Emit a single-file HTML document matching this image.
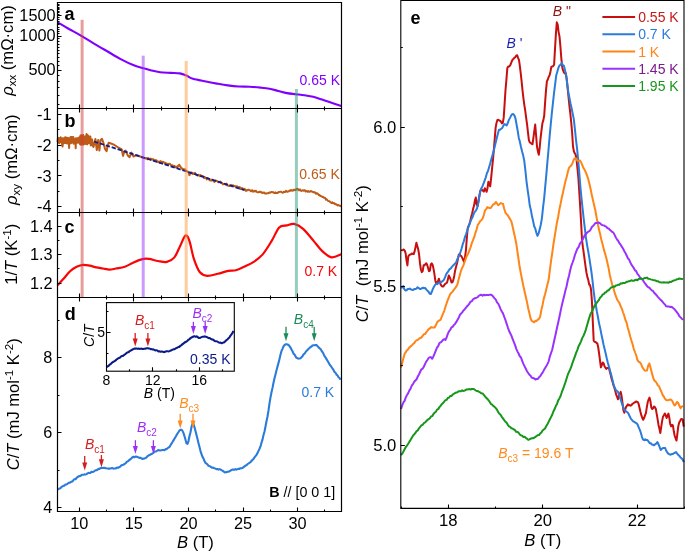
<!DOCTYPE html>
<html><head><meta charset="utf-8"><title>figure</title>
<style>html,body{margin:0;padding:0;background:#fff;}svg{display:block;will-change:transform;}text{font-family:"Liberation Sans",sans-serif;}</style>
</head><body>
<svg width="685" height="552" viewBox="0 0 685 552">
<rect width="685" height="552" fill="#fff"/>
<path d="M57.5,22.3 C59.27,23.33 64.07,26.2 68.1,28.5 C72.13,30.8 77.32,33.55 81.7,36.1 C86.08,38.65 90.08,41.23 94.4,43.8 C98.72,46.37 103.22,48.95 107.6,51.5 C111.98,54.05 116.33,56.8 120.7,59.1 C125.07,61.4 130.15,63.83 133.8,65.3 C137.45,66.77 139.68,67.03 142.6,67.9 C145.52,68.77 148.38,69.77 151.3,70.5 C154.22,71.23 156.82,71.9 160.1,72.3 C163.38,72.7 167.72,72.72 171,72.9 C174.28,73.08 177.23,72.97 179.8,73.4 C182.37,73.83 184.2,74.6 186.4,75.5 C188.6,76.4 189.73,77.8 193,78.8 C196.27,79.8 202.02,80.7 206,81.5 C209.98,82.3 213.27,82.95 216.9,83.6 C220.53,84.25 224.15,84.92 227.8,85.4 C231.45,85.88 235.15,86.28 238.8,86.5 C242.45,86.72 246.05,86.52 249.7,86.7 C253.35,86.88 257.42,87.27 260.7,87.6 C263.98,87.93 266.48,88.15 269.4,88.7 C272.32,89.25 275.27,90.17 278.2,90.9 C281.13,91.63 284.08,92.55 287,93.1 C289.92,93.65 292.78,93.83 295.7,94.2 C298.62,94.57 301.58,94.87 304.5,95.3 C307.42,95.73 310.28,96.08 313.2,96.8 C316.12,97.52 319.07,98.65 322,99.6 C324.93,100.55 327.58,101.45 330.8,102.5 C334.02,103.55 339.55,105.33 341.3,105.9" fill="none" stroke="#8000FF" stroke-width="2.1" stroke-linejoin="round"/>
<polyline points="57.5,142.18 57.95,138.04 58.4,142.5 58.85,137.89 59.3,143.14 59.75,139.23 60.2,141.59 60.65,137.28 61.1,142.2 61.55,138.79 62,144.05 62.45,138.19 62.5,146.5 62.9,143.64 63.35,138.17 63.8,143.13 64.25,138.98 64.7,143.12 65.15,137.16 65.6,142.83 66.05,137.48 66.5,143.19 66.95,139.17 67.4,143.4 67.85,137.84 68.3,142.24 68.75,139.24 69.1,148 69.2,143.66 69.65,138.12 70.1,143.28 70.55,137.09 71,143.26 71.45,136.97 71.9,142.45 72.35,137.27 72.8,142.56 73.25,136.92 73.7,143.65 74.15,139.03 74.6,141.77 75.05,138.72 75.5,143.85 75.7,148.2 75.95,138.16 76.4,142.99 76.85,138.49 77.3,142.68 77.75,138.27 78.2,142.28 78.65,137.76 79.1,142.86 79.55,136.95 80,144.19 80.45,135.49 80.9,144.68 81.35,135.15 81.8,143.91 82.25,137.93 82.7,144.45 83.15,135 83.6,144.49 84.05,136.27 84.5,143.7 84.95,137.4 85.4,143.99 85.85,136.01 86.3,142.08 86.5,133.9 86.75,137.99 87.2,144.33 87.65,135.01 88.1,141.91 88.55,135.93 89,143.29 89.45,138.46 89.9,143.14 90.35,136.55 90.8,145.43 91.25,139.35 91.7,144.78 92.15,139.6 92.6,145.4 93.5,147 95.4,139 96.8,150 98.2,140 99.4,150.6 100.6,140 102,138.8 103.5,143 105,149 106.6,151.3 107.6,146 108.6,142.7 111,143.5 113.8,144.7 116,146 119.1,148 121.7,149.3 123,155.9 124.3,152 125.6,150.6 127.6,155.2 129.6,157.2 131.5,152.6 133.5,156.5 136.1,155.2 140.1,156.5 143.4,157.8 146,158.5 146.7,157.96 147.4,159.12 148.1,158.12 148.8,159.21 149.5,159.02 150.2,158.57 150.9,159.63 151.6,158.84 152.3,159.8 153,159.23 153.7,159.43 154.4,160.28 155.1,161.26 155.8,160.03 156.5,160.41 157.2,161.4 157.9,162.22 158.6,161.65 159.3,161.47 160,162.81 160.7,161.13 161.4,162.93 162.1,161.97 162.8,161.86 163.5,161.98 164.2,162.54 164.9,163.77 165.6,162.73 166.3,163.77 167,164.12 167.7,163.82 168.4,164.41 169.1,163.67 169.8,163.9 170.5,164.43 171.2,165.61 171.9,165.34 172.6,165.35 173.3,166.13 174,166.1 174.7,166.03 175.4,167.25 176.1,167.29 176.8,166.62 177.5,167.52 178.2,165.5 179.3,164.8 180.4,166.8 181.7,168.17 182.4,169.04 183.1,169.98 183.8,169.03 184.5,169.97 185.2,169.33 185.9,170.85 186.6,171.3 187.3,171.17 188,172.02 188.6,172.2 189.4,175.2 190.2,173.6 190.8,172.43 191.5,172.44 192.2,173.46 192.9,173.92 193.6,173.22 194.3,173.85 195,172.9 195.7,174.43 196.4,174.57 197.1,175.51 197.8,175.46 198.5,174.69 199.2,175.2 199.9,176.07 200.6,175.09 201.3,176.27 202,175.99 202.7,176.19 203.4,176.38 204.1,178.11 204.8,177.13 205.5,177.68 206.2,178.24 206.9,179.41 207.6,178.03 208.3,178.97 209,179.38 209.7,180.25 210.4,180.33 211.1,180.63 211.8,179.66 212.5,180.14 213.2,180.23 213.9,181.49 214.6,181.84 215.3,180.43 216,180.69 216.7,181.01 217.4,181.22 218.1,181.93 218.8,182.35 219.5,181.91 220.2,181.61 220.9,182.65 221.6,182.76 222.3,183.37 223,184.35 223.7,184.04 224.4,183.9 225.1,184.32 225.8,184.65 226.5,183.61 227.2,185.52 227.9,185.49 228.6,185.86 229.3,185.89 230,185.26 230.7,185.46 231.4,185.06 232.1,186.3 232.8,185.34 233.5,185.54 234.2,186 234.9,186.1 235.6,186.64 236.3,186.25 237,186.33 237.7,186.81 238.4,186.9 239.1,187.62 239.8,187.15 240.5,189.06 241.2,188.75 241.9,188.02 242.6,188.44 243.3,188.84 244,189.08 244.7,188.81 245.4,190.47 246.1,190.97 246.8,190.12 247.5,190.37 248.2,189.66 248.9,189.78 249.6,190.35 250.3,190.42 251,191.3 251.7,190.45 252.4,190.34 253.1,191.73 253.8,191.23 254.5,190.78 255.2,191.42 255.9,190.79 256.6,191.59 257.3,192.34 258,192.3 258.7,192.19 259.4,191.7 260.1,191.97 260.8,191.81 261.5,192.78 262.2,192.56 262.9,193.03 263.6,192.52 264.3,192.49 265,193.44 265.7,193.65 266.4,193.43 267.1,193.33 267.8,193.32 268.5,193.18 269.2,192.43 269.9,192.8 270.6,192.54 271.3,192.05 272,192.02 272.7,192.34 273.4,192.28 274.1,192.85 274.8,193.18 275.5,192.43 276.2,193.08 276.9,193.11 277.6,193.02 278.3,192.15 279,191.91 279.7,191.88 280.4,191.8 281.1,191.77 281.8,192.32 282.5,192.67 283.2,192.46 283.9,191.82 284.6,191.92 285.3,191.99 286,190.85 286.7,191.52 287.4,191.74 288.1,191.42 288.8,191.24 289.5,190.72 290.2,190.16 290.9,190.88 291.6,190.11 292.3,190.62 293,190.72 293.7,189.77 294.4,189.64 295.1,190.27 295.8,189.81 296.5,188.9 297.2,188.86 297.9,189.03 298.6,190.22 299.3,190.22 300,189.43 300.7,190.52 301.4,190.87 302.1,190.55 302.8,190.26 303.5,190.67 304.2,190.22 304.9,190.16 305.6,191.58 306.3,191.2 307,191.11 307.7,191.75 308.4,191.13 309.1,191.82 309.8,191.83 310.5,191.04 311.2,191.22 311.9,191.51 312.6,191.67 313.3,192.39 314,192.16 314.7,192.62 315.4,192.45 316.1,193.77 316.8,193.23 317.5,193.61 318.2,194.22 318.9,195.13 319.6,194.92 320.3,196.08 321,195.97 321.7,196.48 322.4,196.93 323.1,196.69 323.8,197.75 324.5,197.85 325.2,198.06 325.9,199.63 326.6,199.2 327.3,200.08 328,200.89 328.7,201.11 329.4,201.24 330.1,201.97 330.8,202.48 331.5,203.03 332.2,202.32 332.9,203.2 333.6,203 334.3,203.27 335,204.2 335.7,204.07 336.4,204.38 337.1,204.9 337.8,205.39 338.5,205.03 339.2,205.57 339.9,205.71 340.6,206.02 341.3,206.57" fill="none" stroke="#BE5B16" stroke-width="2.0" stroke-linejoin="round"/>
<line x1="94" y1="141.5" x2="244.5" y2="190.2" stroke="#101C8C" stroke-width="1.8" stroke-dasharray="4.3 1.9"/>
<path d="M57.5,285.3 C58.5,284.22 61.4,281.15 63.5,278.8 C65.6,276.45 67.92,273.2 70.1,271.2 C72.28,269.2 74.42,267.87 76.6,266.8 C78.78,265.73 81,264.98 83.2,264.8 C85.4,264.62 87.62,265.27 89.8,265.7 C91.98,266.13 94.12,266.93 96.3,267.4 C98.48,267.87 100.7,268.13 102.9,268.5 C105.1,268.87 107.32,269.6 109.5,269.6 C111.68,269.6 113.45,268.97 116,268.5 C118.55,268.03 121.87,267.82 124.8,266.8 C127.73,265.78 130.68,263.68 133.6,262.4 C136.52,261.12 139.73,259.68 142.3,259.1 C144.87,258.52 146.38,258.58 149,258.9 C151.62,259.22 155.02,260.5 158,261 C160.98,261.5 164.17,262.5 166.9,261.9 C169.63,261.3 172.15,260.15 174.4,257.4 C176.65,254.65 178.55,249.05 180.4,245.4 C182.25,241.75 184,236.25 185.5,235.5 C187,234.75 188,237 189.4,240.9 C190.8,244.8 192.15,253.67 193.9,258.9 C195.65,264.13 197.67,269.47 199.9,272.3 C202.13,275.13 204.32,275.65 207.3,275.9 C210.28,276.15 214.3,274.65 217.8,273.8 C221.3,272.95 225.3,271.4 228.3,270.8 C231.3,270.2 233.05,270.93 235.8,270.2 C238.55,269.47 241.82,267.78 244.8,266.4 C247.78,265.02 250.72,263.9 253.7,261.9 C256.68,259.9 259.7,257.9 262.7,254.4 C265.7,250.9 268.95,245.4 271.7,240.9 C274.45,236.4 276.7,229.98 279.2,227.4 C281.7,224.82 284.22,225.98 286.7,225.4 C289.18,224.82 291.37,223.32 294.1,223.9 C296.83,224.48 299.85,226.07 303.1,228.9 C306.35,231.73 310.35,237.15 313.6,240.9 C316.85,244.65 319.6,248.65 322.6,251.4 C325.6,254.15 328.48,256.93 331.6,257.4 C334.72,257.87 339.68,254.73 341.3,254.2" fill="none" stroke="#FA0505" stroke-width="2.2" stroke-linejoin="round"/>
<polyline points="57.5,489.56 58.5,488.98 59.5,488.56 60.5,488.16 61.5,487 62.5,486.31 63.5,485.77 64.5,485.61 65.5,484.44 66.5,484.42 67.5,483.84 68.5,482.91 69.5,482.81 70.5,482.24 71.5,481.65 72.5,481.54 73.5,480.01 74.5,479.18 75.5,479.22 76.5,477.97 77.5,477.06 78.5,476.52 79.5,475.99 80.5,476.05 81.5,475.01 82.5,474.69 83.5,474.73 84.5,474.42 85.5,474.51 86.5,474.1 87.5,473.33 88.5,472.86 89.5,473.09 90.5,472.88 91.5,471.66 92.5,471.93 93.5,471.67 94.5,471.06 95.5,470.23 96.5,470.3 97.5,469.8 98.5,468.9 99.5,468.94 100.5,468.23 101.5,467.81 102.5,467.93 103.5,467.84 104.5,467.86 105.5,468.11 106.5,468.33 107.5,468.5 108.5,468.58 109.5,468.63 110.5,468.48 111.5,468.12 112.5,468.12 113.5,468.62 114.5,468.57 115.5,468.57 116.5,467.8 117.5,467.51 118.5,467.7 119.5,466.9 120.5,466.43 121.5,465.29 122.5,464.95 123.5,464.78 124.5,463.89 125.5,463.51 126.5,462.05 127.5,461.46 128.5,460.93 129.5,459.76 130.5,459.25 131.5,458.31 132.5,457.28 133.5,456.78 134.5,457.31 135.5,456.47 136.5,456.63 137.5,456.94 138.5,457.53 139.5,457.88 140.5,457.79 141.5,458.32 142.5,459.05 143.5,458.65 144.5,458.44 145.5,458.11 146.5,457.47 147.5,456.2 148.5,455.52 149.5,454.82 150.5,454.67 151.5,453.98 152.5,453.54 153.5,452.67 154.5,451.58 155.5,451.5 156.5,451.28 157.5,450.47 158.5,450.1 159.5,450.45 160.5,450.41 161.5,450.32 162.5,450.09 163.5,449.91 164.5,450.26 165.5,449.15 166.5,449.2 167.5,448.25 168.5,447.47 169.5,447.04 170.5,445.26 171.5,443.56 172.5,442.03 173.5,440.42 174.5,438.51 175.5,437.17 176.5,435.08 177.5,433.48 178.5,432.04 179.5,430.47 180.5,429.86 181.5,429.83 182.5,430.87 183.5,433.17 184.5,436.27 185.5,439.84 186.5,443.36 187.5,443.88 188.5,441.04 189.5,436.08 190.5,432.3 191.5,426.92 192.5,423.74 193.5,424.01 194.5,427.16 195.5,430.91 196.5,434.98 197.5,439.12 198.5,443.23 199.5,447.08 200.5,451.1 201.5,454.06 202.5,456.86 203.5,458.54 204.5,461.06 205.5,462.91 206.5,463.57 207.5,464.48 208.5,465.82 209.5,466.07 210.5,466.65 211.5,467.52 212.5,467.59 213.5,467.87 214.5,468.25 215.5,468.64 216.5,469.17 217.5,469.05 218.5,469.57 219.5,469.12 220.5,469.51 221.5,470.19 222.5,470.6 223.5,471.31 224.5,472.38 225.5,472.19 226.5,472.17 227.5,471.81 228.5,471.79 229.5,471.11 230.5,470.75 231.5,469.86 232.5,469.49 233.5,469.59 234.5,469.74 235.5,469.17 236.5,469.59 237.5,469.15 238.5,468.83 239.5,468.95 240.5,468.19 241.5,468.19 242.5,467.96 243.5,467.17 244.5,466.41 245.5,465.58 246.5,465.3 247.5,464.17 248.5,463.5 249.5,462.76 250.5,462.19 251.5,460.97 252.5,459.8 253.5,459.02 254.5,457.35 255.5,456.11 256.5,454.88 257.5,453.08 258.5,450.84 259.5,448.76 260.5,446.44 261.5,442.76 262.5,439.61 263.5,435.01 264.5,431.43 265.5,426.49 266.5,421.2 267.5,416.54 268.5,410.46 269.5,403.35 270.5,397.35 271.5,392.19 272.5,387.88 273.5,382.68 274.5,378.32 275.5,374.41 276.5,370.18 277.5,366.62 278.5,362.89 279.5,358.89 280.5,354.63 281.5,350.97 282.5,348.91 283.5,346.45 284.5,345.05 285.5,344.29 286.5,344.23 287.5,344.56 288.5,345.06 289.5,346.09 290.5,347.59 291.5,349.52 292.5,351.26 293.5,353.58 294.5,354.44 295.5,356.35 296.5,357.87 297.5,358.19 298.5,358.63 299.5,358.46 300.5,358.31 301.5,357.14 302.5,356.18 303.5,354.32 304.5,353.78 305.5,352.25 306.5,350.89 307.5,350.01 308.5,348.82 309.5,348.04 310.5,347.08 311.5,346.53 312.5,345.52 313.5,345.23 314.5,345.24 315.5,345 316.5,345.08 317.5,346.12 318.5,347.23 319.5,348.32 320.5,348.97 321.5,350.67 322.5,352.06 323.5,353.8 324.5,356.13 325.5,357.45 326.5,359.09 327.5,360.72 328.5,362.5 329.5,364.32 330.5,365.61 331.5,367.01 332.5,368.54 333.5,370.02 334.5,372.02 335.5,372.74 336.5,374.62 337.5,375.37 338.5,377.25 339.5,378.01 340.5,379.68" fill="none" stroke="#2B7BDB" stroke-width="2.1" stroke-linejoin="round"/>
<rect x="80.6" y="19.8" width="3" height="277.7" fill="#D23C3C" fill-opacity="0.5"/>
<rect x="141.7" y="55.7" width="3" height="241.8" fill="#9933FF" fill-opacity="0.5"/>
<rect x="184.7" y="60.9" width="3" height="236.6" fill="#FF9A3C" fill-opacity="0.5"/>
<rect x="294.9" y="89" width="3" height="208.5" fill="#2D9B7D" fill-opacity="0.5"/>
<rect x="106.5" y="302.6" width="127.80000000000001" height="68.59999999999997" fill="#fff" stroke="none"/>
<path d="M106.5,367.17 C106.67,367.05 107.17,366.66 107.5,366.45 C107.83,366.23 108.17,366.15 108.5,365.88 C108.83,365.61 109.17,365.12 109.5,364.82 C109.83,364.51 110.17,364.3 110.5,364.05 C110.83,363.8 111.17,363.61 111.5,363.31 C111.83,363.02 112.17,362.55 112.5,362.28 C112.83,362.02 113.17,361.93 113.5,361.73 C113.83,361.54 114.17,361.32 114.5,361.13 C114.83,360.93 115.17,360.82 115.5,360.54 C115.83,360.26 116.17,359.72 116.5,359.44 C116.83,359.17 117.17,359.11 117.5,358.89 C117.83,358.66 118.17,358.26 118.5,358.08 C118.83,357.9 119.17,357.99 119.5,357.83 C119.83,357.67 120.17,357.38 120.5,357.09 C120.83,356.8 121.17,356.26 121.5,356.09 C121.83,355.91 122.17,356.15 122.5,356.03 C122.83,355.92 123.17,355.64 123.5,355.41 C123.83,355.17 124.17,354.84 124.5,354.6 C124.83,354.36 125.17,354.22 125.5,353.96 C125.83,353.71 126.17,353.34 126.5,353.07 C126.83,352.81 127.17,352.53 127.5,352.37 C127.83,352.21 128.17,352.28 128.5,352.09 C128.83,351.9 129.17,351.46 129.5,351.23 C129.83,351 130.17,350.9 130.5,350.72 C130.83,350.55 131.17,350.38 131.5,350.17 C131.83,349.96 132.17,349.63 132.5,349.46 C132.83,349.29 133.17,349.29 133.5,349.14 C133.83,348.98 134.17,348.62 134.5,348.54 C134.83,348.46 135.17,348.66 135.5,348.66 C135.83,348.66 136.17,348.53 136.5,348.54 C136.83,348.54 137.17,348.66 137.5,348.68 C137.83,348.71 138.17,348.65 138.5,348.67 C138.83,348.7 139.17,348.83 139.5,348.85 C139.83,348.86 140.17,348.8 140.5,348.76 C140.83,348.72 141.17,348.56 141.5,348.6 C141.83,348.63 142.17,348.92 142.5,348.97 C142.83,349.03 143.17,348.95 143.5,348.92 C143.83,348.88 144.17,348.82 144.5,348.77 C144.83,348.72 145.17,348.71 145.5,348.63 C145.83,348.56 146.17,348.41 146.5,348.34 C146.83,348.28 147.17,348.22 147.5,348.24 C147.83,348.25 148.17,348.4 148.5,348.44 C148.83,348.48 149.17,348.37 149.5,348.48 C149.83,348.58 150.17,348.97 150.5,349.06 C150.83,349.15 151.17,348.94 151.5,349.01 C151.83,349.07 152.17,349.37 152.5,349.44 C152.83,349.51 153.17,349.32 153.5,349.43 C153.83,349.54 154.17,349.95 154.5,350.11 C154.83,350.27 155.17,350.36 155.5,350.38 C155.83,350.39 156.17,350.15 156.5,350.2 C156.83,350.25 157.17,350.46 157.5,350.66 C157.83,350.86 158.17,351.28 158.5,351.38 C158.83,351.48 159.17,351.22 159.5,351.28 C159.83,351.34 160.17,351.7 160.5,351.75 C160.83,351.8 161.17,351.6 161.5,351.56 C161.83,351.53 162.17,351.45 162.5,351.53 C162.83,351.61 163.17,351.94 163.5,352.03 C163.83,352.11 164.17,352.12 164.5,352.04 C164.83,351.96 165.17,351.68 165.5,351.55 C165.83,351.43 166.17,351.32 166.5,351.26 C166.83,351.21 167.17,351.2 167.5,351.23 C167.83,351.26 168.17,351.45 168.5,351.43 C168.83,351.41 169.17,351.27 169.5,351.13 C169.83,350.98 170.17,350.7 170.5,350.56 C170.83,350.42 171.17,350.44 171.5,350.31 C171.83,350.17 172.17,349.92 172.5,349.74 C172.83,349.56 173.17,349.32 173.5,349.23 C173.83,349.14 174.17,349.34 174.5,349.19 C174.83,349.04 175.17,348.52 175.5,348.34 C175.83,348.15 176.17,348.22 176.5,348.08 C176.83,347.95 177.17,347.73 177.5,347.53 C177.83,347.34 178.17,347.03 178.5,346.9 C178.83,346.76 179.17,346.95 179.5,346.74 C179.83,346.53 180.17,345.89 180.5,345.63 C180.83,345.37 181.17,345.44 181.5,345.19 C181.83,344.93 182.17,344.39 182.5,344.12 C182.83,343.85 183.17,343.79 183.5,343.55 C183.83,343.31 184.17,342.94 184.5,342.68 C184.83,342.41 185.17,342.14 185.5,341.96 C185.83,341.79 186.17,341.83 186.5,341.63 C186.83,341.43 187.17,341.09 187.5,340.77 C187.83,340.45 188.17,339.95 188.5,339.7 C188.83,339.46 189.17,339.55 189.5,339.29 C189.83,339.02 190.17,338.42 190.5,338.12 C190.83,337.81 191.17,337.65 191.5,337.46 C191.83,337.27 192.17,337.15 192.5,336.97 C192.83,336.8 193.17,336.55 193.5,336.42 C193.83,336.29 194.17,336.11 194.5,336.18 C194.83,336.24 195.17,336.75 195.5,336.79 C195.83,336.83 196.17,336.39 196.5,336.41 C196.83,336.43 197.17,336.67 197.5,336.9 C197.83,337.12 198.17,337.59 198.5,337.76 C198.83,337.94 199.17,337.99 199.5,337.96 C199.83,337.94 200.17,337.75 200.5,337.61 C200.83,337.47 201.17,337.28 201.5,337.14 C201.83,337.01 202.17,336.88 202.5,336.82 C202.83,336.76 203.17,336.88 203.5,336.78 C203.83,336.69 204.17,336.27 204.5,336.25 C204.83,336.22 205.17,336.53 205.5,336.63 C205.83,336.74 206.17,336.77 206.5,336.88 C206.83,337 207.17,337.13 207.5,337.32 C207.83,337.51 208.17,337.88 208.5,338.01 C208.83,338.15 209.17,338.02 209.5,338.12 C209.83,338.22 210.17,338.4 210.5,338.6 C210.83,338.79 211.17,339.15 211.5,339.28 C211.83,339.41 212.17,339.28 212.5,339.38 C212.83,339.48 213.17,339.63 213.5,339.87 C213.83,340.11 214.17,340.6 214.5,340.83 C214.83,341.07 215.17,341.21 215.5,341.29 C215.83,341.37 216.17,341.26 216.5,341.32 C216.83,341.37 217.17,341.45 217.5,341.61 C217.83,341.77 218.17,342.09 218.5,342.28 C218.83,342.46 219.17,342.67 219.5,342.73 C219.83,342.79 220.17,342.54 220.5,342.62 C220.83,342.69 221.17,343.13 221.5,343.17 C221.83,343.21 222.17,343 222.5,342.88 C222.83,342.76 223.17,342.59 223.5,342.46 C223.83,342.33 224.17,342.34 224.5,342.1 C224.83,341.87 225.17,341.41 225.5,341.06 C225.83,340.72 226.17,340.27 226.5,340.02 C226.83,339.78 227.17,339.89 227.5,339.58 C227.83,339.26 228.17,338.52 228.5,338.14 C228.83,337.77 229.17,337.75 229.5,337.32 C229.83,336.89 230.17,336.04 230.5,335.55 C230.83,335.07 231.17,334.86 231.5,334.39 C231.83,333.93 232.17,333.31 232.5,332.76 C232.83,332.2 233.33,331.36 233.5,331.08" fill="none" stroke="#0A1A8A" stroke-width="2.1" stroke-linejoin="round"/>
<rect x="106.5" y="302.6" width="127.80000000000001" height="68.59999999999997" fill="none" stroke="#000" stroke-width="1.1"/>
<path d="M129.5,371.2 v-2 M152.5,371.2 v-4 M176.5,371.2 v-2 M199.5,371.2 v-4 M222.5,371.2 v-2 M106.5,332.5 h4 M106.5,311.5 h2 M106.5,353.5 h2" stroke="#000" stroke-width="1.1" fill="none"/>
<path d="M57.5,2.5 H341.5 V511.5 H57.5 Z" fill="none" stroke="#000" stroke-width="1.2"/>
<line x1="57.5" y1="108.5" x2="341.5" y2="108.5" stroke="#000" stroke-width="1.2"/>
<line x1="57.5" y1="212.5" x2="341.5" y2="212.5" stroke="#000" stroke-width="1.2"/>
<line x1="57.5" y1="297.5" x2="341.5" y2="297.5" stroke="#000" stroke-width="1.2"/>
<path d="M79.5,511.5 v-4 M79.5,104.5 v8 M79.5,208.5 v8 M79.5,293.5 v8 M106.5,511.5 v-2 M106.5,106.5 v4 M106.5,210.5 v4 M106.5,295.5 v4 M133.5,511.5 v-4 M133.5,104.5 v8 M133.5,208.5 v8 M133.5,293.5 v8 M161.5,511.5 v-2 M161.5,106.5 v4 M161.5,210.5 v4 M161.5,295.5 v4 M188.5,511.5 v-4 M188.5,104.5 v8 M188.5,208.5 v8 M188.5,293.5 v8 M215.5,511.5 v-2 M215.5,106.5 v4 M215.5,210.5 v4 M215.5,295.5 v4 M243.5,511.5 v-4 M243.5,104.5 v8 M243.5,208.5 v8 M243.5,293.5 v8 M270.5,511.5 v-2 M270.5,106.5 v4 M270.5,210.5 v4 M270.5,295.5 v4 M297.5,511.5 v-4 M297.5,104.5 v8 M297.5,208.5 v8 M297.5,293.5 v8 M324.5,511.5 v-2 M324.5,106.5 v4 M324.5,210.5 v4 M324.5,295.5 v4 M57.5,104.5 h2 M57.5,95.5 h2 M57.5,87.5 h2 M57.5,81.5 h2 M57.5,75.5 h2 M57.5,70.5 h4 M57.5,65.5 h2 M57.5,61.5 h2 M57.5,57.5 h2 M57.5,53.5 h2 M57.5,50.5 h2 M57.5,47.5 h2 M57.5,44.5 h2 M57.5,41.5 h2 M57.5,38.5 h2 M57.5,36.5 h4 M57.5,33.5 h2 M57.5,31.5 h2 M57.5,29.5 h2 M57.5,27.5 h2 M57.5,24.5 h2 M57.5,23.5 h2 M57.5,21.5 h2 M57.5,19.5 h2 M57.5,17.5 h2 M57.5,15.5 h4 M57.5,14.5 h2 M57.5,12.5 h2 M57.5,11.5 h2 M57.5,9.5 h2 M57.5,8.5 h2 M57.5,7.5 h2 M57.5,5.5 h2 M57.5,4.5 h2 M57.5,114.5 h4 M57.5,129.5 h2 M57.5,145.5 h4 M57.5,160.5 h2 M57.5,175.5 h4 M57.5,191.5 h2 M57.5,206.5 h4 M57.5,283.5 h4 M57.5,268.5 h2 M57.5,254.5 h4 M57.5,240.5 h2 M57.5,226.5 h4 M57.5,507.5 h4 M57.5,470.5 h2 M57.5,432.5 h4 M57.5,395.5 h2 M57.5,357.5 h4 M57.5,320.5 h2" stroke="#000" stroke-width="1.1" fill="none"/>
<g fill="none" stroke-width="2.0" stroke-linejoin="round">
<polyline points="401.1,249.88 402,250.22 402.9,249.93 403.8,249.5 404.7,250.67 405.6,253.06 406.5,260.44 407.4,265.4 408.3,256.41 409.2,255.11 410.1,254.57 411,254.29 411.9,253.42 412.8,253.99 413.7,254.13 414.6,251.37 415.5,247.27 416.4,242.71 417.3,245.96 418.2,249.29 419.1,254.51 420,263.41 420.9,269.49 421.8,272.11 422.7,271.16 423.6,265.3 424.5,265.15 425.4,264.31 426.3,263.19 427.2,265.02 428.1,267.97 429,271.32 429.9,270.61 430.8,264.38 431.7,263.39 432.6,264.73 433.5,268.65 434.4,273.8 435.3,280.43 436.2,283.42 437.1,282.42 438,281.03 438.9,278.74 439.8,281.74 440.7,284.7 441.6,285.95 442.5,286.56 443.4,286.42 444.3,284.98 445.2,283.83 446.1,283.25 447,282.72 447.9,279.27 448.8,275.55 449.7,277.27 450.6,279.36 451.5,282.42 452.4,282.29 453.3,280.1 454.2,276 455.1,270.66 456,267.12 456.9,263.77 457.8,259.66 458.7,254.92 459.6,253.87 460.5,255.31 461.4,256.27 462.3,257.87 463.2,260.07 464.1,261.92 465,257.19 465.9,250.6 466.8,238.07 467.7,228.14 468.6,225.86 469.5,223.83 470.4,220.56 471.3,216.44 472.2,213.31 473.1,208.87 474,205.81 474.9,200.57 475.8,197.41 476.7,204.51 477.6,206.08 478.5,200.98 479.4,195.55 480.3,191.07 481.2,189.3 482.1,189.87 483,190.79 483.9,191.6 484.8,188.19 485.7,189.47 486.6,191.8 487.5,188.23 488.4,181.67 489.3,183.39 490.2,186.38 491.1,178.43 492,169.03 492.9,160.49 493.8,150.41 494.7,139.28 495.6,127.86 496.5,122.98 497.4,119.97 498.3,119.79 499.2,120.29 500.1,120.84 501,121.69 501.9,123.36 502.8,122.83 503.7,117.65 504.6,104.03 505.5,90.18 506.4,79.93 507.3,68.26 508.2,66.45 509.1,66.62 510,65.62 510.9,63.74 511.8,61.16 512.7,59.49 513.6,58.76 514.5,57.69 515.4,57.12 516.3,55.45 517.2,55.32 518.1,57.85 519,60.14 519.9,66.43 520.8,73.82 521.7,82.09 522.6,91.16 523.5,98.79 524.4,105.39 525.3,111.12 526.2,118.08 527.1,124.72 528,132.54 528.9,140.06 529.8,142.47 530.7,143.01 531.6,143.76 532.5,144.31 533.4,137.88 534.3,131.16 535.2,124.57 536.1,135.49 537,146.48 537.9,151.43 538.8,154.78 539.7,147.52 540.6,137.77 541.5,130.38 542.4,123.3 543.3,120.41 544.2,115.76 545.1,102.48 546,90.37 546.9,81.38 547.8,79.51 548.7,76.85 549.6,75.16 550.5,71.4 551.4,66.64 552.3,66.55 553.2,66.03 554.1,64.78 555,49.16 555.9,33.91 556.8,22.32 557.7,24.66 558.6,32.11 559.5,36.42 560.4,46.36 561.3,57.96 562.2,67.14 563.1,70.49 564,72.65 564.9,73.52 565.8,73.17 566.7,78.91 567.6,87.84 568.5,96.59 569.4,105.57 570.3,113.46 571.2,122.05 572.1,132.25 573,146.27 573.9,151.54 574.8,153.34 575.7,154.78 576.6,160.14 577.5,168.81 578.4,178.24 579.3,192.17 580.2,206.84 581.1,222.48 582,239.78 582.9,247.2 583.8,253.35 584.7,260.09 585.6,266.9 586.5,272.77 587.4,277.13 588.3,280 589.2,284.67 590.1,285.16 591,289.23 591.9,300.71 592.8,321.36 593.7,340.68 594.6,341.82 595.5,342.02 596.4,342.81 597.3,343.35 598.2,347.24 599.1,353.51 600,360.26 600.9,367.33 601.8,365.13 602.7,362.45 603.6,363.19 604.5,366.17 605.4,367.68 606.3,368.84 607.2,368.11 608.1,367.79 609,368.01 609.9,372.01 610.8,375.3 611.7,379.4 612.6,381.88 613.5,385.39 614.4,387.75 615.3,391.08 616.2,394.63 617.1,396.92 618,399.27 618.9,395.91 619.8,393.67 620.7,391.88 621.6,396.07 622.5,402.91 623.4,410.2 624.3,412.69 625.2,409.53 626.1,406.92 627,405.72 627.9,404.39 628.8,405.4 629.7,405.04 630.6,405.72 631.5,405.19 632.4,403.79 633.3,403.44 634.2,402.62 635.1,402.23 636,401.54 636.9,401.78 637.8,402.23 638.7,404.16 639.6,408.23 640.5,412.06 641.4,415.4 642.3,418.05 643.2,419.8 644.1,418.08 645,415.41 645.9,413.04 646.8,407.41 647.7,402.27 648.6,399.46 649.5,397.65 650.4,401.06 651.3,407.48 652.2,409.02 653.1,408.19 654,406.47 654.9,407.16 655.8,408.8 656.7,413.86 657.6,419.2 658.5,424.97 659.4,428.58 660.3,433.08 661.2,427.16 662.1,421.09 663,416.65 663.9,415.17 664.8,413.46 665.7,414.97 666.6,418.04 667.5,416.14 668.4,413.58 669.3,417.54 670.2,424 671.1,426.39 672,424.76 672.9,425.34 673.8,431.29 674.7,435.72 675.6,438.4 676.5,440.58 677.4,433.52 678.3,426.21 679.2,422.58 680.1,421 681,419.25 681.9,418.99 682.8,419.81 683.7,426.67" stroke="#C80F0F"/>
<polyline points="401.1,287.85 402.2,287.46 403.3,286.12 404.4,289.4 405.5,290.47 406.6,290.31 407.7,288.88 408.8,289.03 409.9,288.59 411,289.54 412.1,289.84 413.2,290.02 414.3,289.08 415.4,289.04 416.5,288.64 417.6,287.21 418.7,288.05 419.8,288.95 420.9,288.92 422,288.19 423.1,287.64 424.2,288.34 425.3,288.04 426.4,289.58 427.5,290.72 428.6,291.75 429.7,293.81 430.8,293.98 431.9,291.53 433,288.6 434.1,286.51 435.2,284.72 436.3,283.73 437.4,284.17 438.5,282.92 439.6,282.44 440.7,282.3 441.8,281.63 442.9,280.83 444,279.58 445.1,277.19 446.2,274.26 447.3,272.6 448.4,271.22 449.5,269.15 450.6,268.56 451.7,267.07 452.8,265.8 453.9,264.8 455,263.62 456.1,262.58 457.2,259.34 458.3,257.09 459.4,254.98 460.5,252 461.6,248.43 462.7,244.45 463.8,241.28 464.9,237.2 466,234.31 467.1,231.06 468.2,227.51 469.3,224.74 470.4,221.56 471.5,219.13 472.6,217.06 473.7,213.86 474.8,211.85 475.9,210.52 477,208.55 478.1,203.86 479.2,197.12 480.3,191.29 481.4,188.14 482.5,186.17 483.6,183.47 484.7,180.32 485.8,177.37 486.9,173.18 488,171 489.1,167.25 490.2,163.5 491.3,159.3 492.4,155.48 493.5,151.41 494.6,147.33 495.7,142.55 496.8,138.07 497.9,133.49 499,129.68 500.1,129.66 501.2,128.82 502.3,127.93 503.4,125.56 504.5,124.13 505.6,124.6 506.7,125.33 507.8,123.04 508.9,119.9 510,117.85 511.1,115.56 512.2,114.17 513.3,114.02 514.4,115.36 515.5,118.56 516.6,124.74 517.7,130.85 518.8,137.96 519.9,141.84 521,147.06 522.1,151.54 523.2,155.6 524.3,161.02 525.4,170.59 526.5,181.26 527.6,189.61 528.7,197.16 529.8,205.79 530.9,210.06 532,216.31 533.1,221.05 534.2,226.23 535.3,228.63 536.4,232.85 537.5,235.89 538.6,233.44 539.7,229.17 540.8,224.75 541.9,218.3 543,207.89 544.1,198.86 545.2,186.8 546.3,174.94 547.4,162.19 548.5,149.91 549.6,136.92 550.7,124.89 551.8,113.64 552.9,103.37 554,93.39 555.1,84.54 556.2,75.57 557.3,71.66 558.4,67.88 559.5,65.36 560.6,64.89 561.7,62.87 562.8,65.04 563.9,65.75 565,70.24 566.1,75.3 567.2,83.28 568.3,91.96 569.4,97.57 570.5,103.51 571.6,108.2 572.7,113.78 573.8,119.08 574.9,129.22 576,139.91 577.1,148.94 578.2,160.37 579.3,173.41 580.4,187.11 581.5,198.23 582.6,208.59 583.7,218.85 584.8,227.76 585.9,237.29 587,244.58 588.1,250.57 589.2,257.18 590.3,264.29 591.4,271.75 592.5,280.34 593.6,290.84 594.7,299.22 595.8,305.01 596.9,311.77 598,317.21 599.1,323.58 600.2,328.18 601.3,333.83 602.4,338.92 603.5,344.53 604.6,349.03 605.7,353.43 606.8,358.48 607.9,362.98 609,366.79 610.1,370.92 611.2,374.75 612.3,379.24 613.4,383.88 614.5,387.25 615.6,389.54 616.7,390.78 617.8,391.49 618.9,394.06 620,397.45 621.1,400.98 622.2,404.28 623.3,407.01 624.4,409.74 625.5,410.9 626.6,411.7 627.7,412.53 628.8,414.24 629.9,416.82 631,418.78 632.1,420.2 633.2,421.46 634.3,421.67 635.4,422.78 636.5,423.1 637.6,424.59 638.7,427.27 639.8,429.95 640.9,432.95 642,437.06 643.1,439.64 644.2,440.14 645.3,439.3 646.4,440.12 647.5,439.99 648.6,441.68 649.7,443.14 650.8,443.26 651.9,444.48 653,444.64 654.1,445.31 655.2,444.18 656.3,443.65 657.4,441.98 658.5,444.3 659.6,446.98 660.7,450.01 661.8,448.87 662.9,448.01 664,448.11 665.1,447.93 666.2,450.75 667.3,452.42 668.4,453.87 669.5,454.29 670.6,454.75 671.7,454.06 672.8,454.01 673.9,453.21 675,452.77 676.1,451.97 677.2,453.7 678.3,455.06 679.4,455.87 680.5,457.55 681.6,458.37 682.7,459.74 683.8,461.94" stroke="#2B7BDB"/>
<polyline points="401,367.55 402.2,362.91 403.4,358.17 404.6,353.93 405.8,352.14 407,350.2 408.2,349.14 409.4,347.42 410.6,346.31 411.8,345.47 413,344.01 414.2,343.14 415.4,341.38 416.6,340.26 417.8,339.87 419,338.71 420.2,338.04 421.4,337.54 422.6,335.92 423.8,334.32 425,334.07 426.2,332.34 427.4,330.82 428.6,329.16 429.8,328.5 431,327.09 432.2,327.5 433.4,327.61 434.6,327.51 435.8,325.27 437,322.66 438.2,321.16 439.4,320.47 440.6,319.58 441.8,316.61 443,313.61 444.2,311.05 445.4,306.95 446.6,303.29 447.8,299.94 449,297.07 450.2,294.1 451.4,292.8 452.6,291.58 453.8,289.97 455,288.29 456.2,286.69 457.4,284.43 458.6,279.43 459.8,275.13 461,270.77 462.2,267.75 463.4,265.32 464.6,261.98 465.8,258.61 467,255.47 468.2,253.41 469.4,250.36 470.6,247.24 471.8,243.12 473,240.17 474.2,237.18 475.4,232.91 476.6,229.53 477.8,224.67 479,223.4 480.2,220.98 481.4,220.22 482.6,218.48 483.8,215.05 485,210.44 486.2,209.09 487.4,207.14 488.6,207.86 489.8,208.07 491,207.68 492.2,205.82 493.4,204.32 494.6,204.09 495.8,201.97 497,203.5 498.2,205.15 499.4,204.46 500.6,203.11 501.8,203.46 503,203.69 504.2,208.78 505.4,212.56 506.6,214.14 507.8,215.29 509,217.39 510.2,219.36 511.4,221.56 512.6,226.54 513.8,231.92 515,237.33 516.2,243.2 517.4,251.31 518.6,259.61 519.8,267.8 521,274.07 522.2,280.25 523.4,286.13 524.6,291.48 525.8,296.68 527,302.16 528.2,308.23 529.4,313.28 530.6,318.55 531.8,320.96 533,321.53 534.2,322.38 535.4,320.86 536.6,320.96 537.8,319.58 539,318.68 540.2,316.64 541.4,309.87 542.6,304.79 543.8,298.65 545,294.48 546.2,289.65 547.4,284.46 548.6,280.08 549.8,270.65 551,261.31 552.2,253.19 553.4,244.38 554.6,236.98 555.8,229.63 557,222.2 558.2,216.67 559.4,209.33 560.6,203.79 561.8,197.59 563,192.42 564.2,186.84 565.4,181.32 566.6,177.27 567.8,172.13 569,167.85 570.2,166.45 571.4,165.27 572.6,162.82 573.8,159.5 575,158.32 576.2,158.46 577.4,160.69 578.6,160.87 579.8,160.4 581,162.02 582.2,164.9 583.4,167.84 584.6,169.83 585.8,172.27 587,175.4 588.2,178.94 589.4,183.8 590.6,188.99 591.8,195.05 593,200.16 594.2,205.43 595.4,210.73 596.6,217.54 597.8,223.86 599,229.47 600.2,234.57 601.4,239.99 602.6,244.32 603.8,249.36 605,253.37 606.2,257.59 607.4,262.78 608.6,268.12 609.8,275.02 611,280.04 612.2,284.6 613.4,287.84 614.6,292.63 615.8,295.87 617,299.25 618.2,301.22 619.4,302.87 620.6,306.29 621.8,308.59 623,312.26 624.2,315.53 625.4,319.99 626.6,322.57 627.8,327.76 629,331.74 630.2,336.53 631.4,340.45 632.6,344.26 633.8,348.97 635,352.25 636.2,355.25 637.4,359.92 638.6,361.6 639.8,362.25 641,363.77 642.2,366.94 643.4,368.73 644.6,370.57 645.8,370.63 647,370.49 648.2,365.61 649.4,363.48 650.6,368.04 651.8,372.5 653,377.24 654.2,380.27 655.4,381.46 656.6,382.85 657.8,385.28 659,386.19 660.2,389.18 661.4,391.74 662.6,394.83 663.8,396.57 665,398.76 666.2,399.98 667.4,400.27 668.6,400.05 669.8,399.57 671,399.81 672.2,400.86 673.4,403.46 674.6,405.43 675.8,404.23 677,401.92 678.2,402.84 679.4,405.76 680.6,408.23 681.8,406.5 683,406.25" stroke="#FF8516"/>
<polyline points="401,409.05 402.2,405.35 403.4,402.48 404.6,400.93 405.8,397.42 407,394.94 408.2,393.18 409.4,390.41 410.6,388.67 411.8,385.48 413,384.15 414.2,381.77 415.4,380.5 416.6,379.22 417.8,376.52 419,374.41 420.2,371.75 421.4,369.28 422.6,368.67 423.8,366.71 425,364.17 426.2,361.63 427.4,360.02 428.6,358 429.8,357.23 431,357.14 432.2,358.8 433.4,356.4 434.6,353.52 435.8,350.53 437,347.71 438.2,346.15 439.4,343.07 440.6,342.44 441.8,341.45 443,339.88 444.2,339.17 445.4,339.99 446.6,337.53 447.8,333.93 449,331.41 450.2,329.97 451.4,327.35 452.6,326.81 453.8,325.11 455,323.92 456.2,322.19 457.4,320.09 458.6,318 459.8,315.02 461,313.62 462.2,312.39 463.4,310.56 464.6,309.44 465.8,307.92 467,306.34 468.2,305.18 469.4,303.56 470.6,301.61 471.8,301.31 473,299.4 474.2,298.71 475.4,297.89 476.6,297.74 477.8,296.98 479,295.67 480.2,295.08 481.4,294.72 482.6,295.67 483.8,294.81 485,295.26 486.2,295.02 487.4,294.99 488.6,295.03 489.8,294.86 491,294.7 492.2,295.33 493.4,296.92 494.6,298.42 495.8,299.66 497,302.34 498.2,303.65 499.4,306.19 500.6,309.06 501.8,311.55 503,313.37 504.2,316.73 505.4,319.94 506.6,323.6 507.8,327.3 509,330.71 510.2,333.19 511.4,335.65 512.6,338.81 513.8,341.95 515,344.84 516.2,348.59 517.4,351.37 518.6,353.49 519.8,356.26 521,357.52 522.2,360.88 523.4,363.86 524.6,366.33 525.8,368.67 527,371.29 528.2,372.97 529.4,374.76 530.6,375.74 531.8,377.74 533,377.9 534.2,378.5 535.4,379.51 536.6,379.03 537.8,378.96 539,377.32 540.2,376.34 541.4,374.16 542.6,372.65 543.8,370.37 545,368.3 546.2,366.34 547.4,364.14 548.6,361.6 549.8,356.69 551,353.14 552.2,349.76 553.4,344.25 554.6,338.79 555.8,333.47 557,327.68 558.2,322.55 559.4,316.97 560.6,311.13 561.8,305.39 563,300.52 564.2,295.7 565.4,290.61 566.6,286.23 567.8,280.27 569,275.8 570.2,270.17 571.4,265.57 572.6,262.5 573.8,259.02 575,254.75 576.2,251.68 577.4,248.74 578.6,247.22 579.8,243.9 581,242.26 582.2,240.35 583.4,238.18 584.6,235.45 585.8,234.34 587,232.67 588.2,231.71 589.4,231.14 590.6,229.65 591.8,227.09 593,225.94 594.2,224.66 595.4,222.99 596.6,223.11 597.8,222.58 599,222.74 600.2,223.32 601.4,224.71 602.6,225.11 603.8,225.4 605,226.15 606.2,226.64 607.4,228.09 608.6,228.55 609.8,229.73 611,230.83 612.2,231.97 613.4,232.6 614.6,234.87 615.8,237.44 617,239.31 618.2,240.87 619.4,243.2 620.6,244.66 621.8,246.64 623,248.51 624.2,250.92 625.4,252.92 626.6,255.45 627.8,258.2 629,259.39 630.2,262.04 631.4,264.58 632.6,266.24 633.8,268.09 635,270.32 636.2,271.09 637.4,273.86 638.6,275.21 639.8,276.99 641,278.65 642.2,279.41 643.4,281.01 644.6,282.78 645.8,284.38 647,286.07 648.2,287.21 649.4,287.76 650.6,289.11 651.8,290.35 653,290.95 654.2,292.82 655.4,294.05 656.6,295.22 657.8,296.86 659,298.17 660.2,299.43 661.4,300.49 662.6,301.91 663.8,303.32 665,304.57 666.2,306.37 667.4,306.38 668.6,306.47 669.8,306.91 671,306.74 672.2,307.23 673.4,308.27 674.6,309.25 675.8,310.78 677,312.34 678.2,313.99 679.4,316.27 680.6,317.39 681.8,318.68 683,319.72" stroke="#9A32FF"/>
<polyline points="401,455.13 402.2,453.66 403.4,451.55 404.6,449.32 405.8,446.98 407,445.56 408.2,443.75 409.4,441.63 410.6,439.83 411.8,437.74 413,435.69 414.2,434.31 415.4,433.02 416.6,431.01 417.8,430.37 419,428.32 420.2,426.88 421.4,425.23 422.6,424.85 423.8,423.22 425,422.49 426.2,421.32 427.4,419.81 428.6,419.25 429.8,418.32 431,416.55 432.2,416.12 433.4,414.12 434.6,412.53 435.8,411.89 437,409.68 438.2,409.11 439.4,407.14 440.6,405.8 441.8,404.13 443,403.08 444.2,401.56 445.4,400.19 446.6,399.9 447.8,398.01 449,397.57 450.2,395.99 451.4,395.88 452.6,394.84 453.8,393.74 455,393.04 456.2,392.48 457.4,392.29 458.6,391.27 459.8,391.3 461,391.34 462.2,390.38 463.4,390.91 464.6,390.6 465.8,389.81 467,389.5 468.2,389.36 469.4,389.07 470.6,389.52 471.8,388.98 473,388.89 474.2,389.27 475.4,390.26 476.6,391.01 477.8,391.12 479,391.76 480.2,392.48 481.4,393.34 482.6,393.42 483.8,394.84 485,396.28 486.2,397.85 487.4,398.86 488.6,400.34 489.8,402.04 491,404.06 492.2,404.59 493.4,406.04 494.6,406.9 495.8,408.14 497,409.72 498.2,412.16 499.4,413.74 500.6,414.88 501.8,416.8 503,418.37 504.2,420.17 505.4,421.74 506.6,422.65 507.8,424.8 509,426.28 510.2,427.02 511.4,428.23 512.6,428.69 513.8,429.45 515,430.2 516.2,431.8 517.4,431.92 518.6,432.73 519.8,434.45 521,435.33 522.2,435.78 523.4,436.94 524.6,436.84 525.8,437.83 527,438.66 528.2,439.93 529.4,439.44 530.6,438.68 531.8,438.31 533,438.29 534.2,437.78 535.4,436.92 536.6,436.03 537.8,435.18 539,435.1 540.2,433.43 541.4,432.45 542.6,430.48 543.8,429.48 545,428.44 546.2,426.28 547.4,424.27 548.6,421.85 549.8,419.55 551,417.17 552.2,414.78 553.4,411.49 554.6,409.05 555.8,406.08 557,403.91 558.2,400.37 559.4,398.4 560.6,395.98 561.8,392.18 563,389.23 564.2,385.7 565.4,382.35 566.6,378.48 567.8,374.68 569,371.85 570.2,369.45 571.4,366.4 572.6,362.55 573.8,359.38 575,356.06 576.2,352.68 577.4,349.83 578.6,346.18 579.8,344.1 581,341.28 582.2,338.12 583.4,335.99 584.6,333.17 585.8,329.8 587,325.45 588.2,321.35 589.4,317.32 590.6,313.77 591.8,311.78 593,309.25 594.2,306.34 595.4,304.71 596.6,303.03 597.8,301.4 599,299.9 600.2,297.52 601.4,296.51 602.6,294.55 603.8,294.14 605,292.54 606.2,292.18 607.4,290.73 608.6,290.26 609.8,288.89 611,287.65 612.2,287.08 613.4,286.5 614.6,286.66 615.8,285.5 617,285.23 618.2,284.79 619.4,284.74 620.6,283.37 621.8,283.53 623,283.04 624.2,282.91 625.4,282.78 626.6,281.67 627.8,281.71 629,281.18 630.2,281.01 631.4,280.25 632.6,280.87 633.8,280.85 635,279.95 636.2,279.71 637.4,280.24 638.6,279.01 639.8,278.71 641,278.44 642.2,279 643.4,278.68 644.6,278.07 645.8,278 647,277.58 648.2,278.69 649.4,278.88 650.6,279.38 651.8,279.63 653,280.03 654.2,280.22 655.4,280.42 656.6,281.19 657.8,281.21 659,281.95 660.2,282.31 661.4,282.44 662.6,282.38 663.8,282.29 665,282.39 666.2,282.44 667.4,282.53 668.6,282.83 669.8,281.8 671,282.04 672.2,281.23 673.4,280.65 674.6,280.33 675.8,279.82 677,279.26 678.2,279.01 679.4,278.52 680.6,278.87 681.8,278.88 683,279.05" stroke="#16961A"/>
</g>
<path d="M400.8,0.5 H684.0 V508.4 H400.8 Z" fill="none" stroke="#000" stroke-width="1.1"/>
<path d="M401.5,508.4 v-2 M448.5,508.4 v-4 M495.5,508.4 v-2 M542.5,508.4 v-4 M589.5,508.4 v-2 M637.5,508.4 v-4 M684.5,508.4 v-2 M400.8,445.5 h4 M400.8,365.5 h2 M400.8,286.5 h4 M400.8,206.5 h2 M400.8,127.5 h4 M400.8,47.5 h2" stroke="#000" stroke-width="1.1" fill="none"/>
<line x1="602.4" y1="17.1" x2="635.1" y2="17.1" stroke="#C80F0F" stroke-width="2"/>
<text x="638.2" y="22.1" font-size="14" fill="#C81818" font-family="Liberation Sans, sans-serif">0.55 K</text>
<line x1="602.4" y1="34.35" x2="635.1" y2="34.35" stroke="#2B7BDB" stroke-width="2"/>
<text x="638.2" y="39.35" font-size="14" fill="#2B7BDB" font-family="Liberation Sans, sans-serif">0.7 K</text>
<line x1="602.4" y1="51.6" x2="635.1" y2="51.6" stroke="#FF8516" stroke-width="2"/>
<text x="638.2" y="56.6" font-size="14" fill="#FF8516" font-family="Liberation Sans, sans-serif">1 K</text>
<line x1="602.4" y1="68.85" x2="635.1" y2="68.85" stroke="#9A32FF" stroke-width="2"/>
<text x="638.2" y="73.85" font-size="14" fill="#7D1A8C" font-family="Liberation Sans, sans-serif">1.45 K</text>
<line x1="602.4" y1="86.1" x2="635.1" y2="86.1" stroke="#16961A" stroke-width="2"/>
<text x="638.2" y="91.1" font-size="14" fill="#16961A" font-family="Liberation Sans, sans-serif">1.95 K</text>
<text x="64.5" y="19.8" font-size="18" text-anchor="start" fill="#000" font-family="Liberation Sans, sans-serif" font-weight="bold">a</text>
<text x="64.5" y="127.4" font-size="18" text-anchor="start" fill="#000" font-family="Liberation Sans, sans-serif" font-weight="bold">b</text>
<text x="64.5" y="232.8" font-size="18" text-anchor="start" fill="#000" font-family="Liberation Sans, sans-serif" font-weight="bold">c</text>
<text x="64.8" y="320.2" font-size="18" text-anchor="start" fill="#000" font-family="Liberation Sans, sans-serif" font-weight="bold">d</text>
<text x="410.4" y="23.6" font-size="18" text-anchor="start" fill="#000" font-family="Liberation Sans, sans-serif" font-weight="bold">e</text>
<text x="55.6" y="20.9" font-size="16.3" text-anchor="end" fill="#000" font-family="Liberation Sans, sans-serif" >1500</text>
<text x="55.6" y="40.9" font-size="16.3" text-anchor="end" fill="#000" font-family="Liberation Sans, sans-serif" >1000</text>
<text x="55.6" y="75.1" font-size="16.3" text-anchor="end" fill="#000" font-family="Liberation Sans, sans-serif" >500</text>
<text x="51.5" y="120.1" font-size="16.3" text-anchor="end" fill="#000" font-family="Liberation Sans, sans-serif" >-1</text>
<text x="51.5" y="150.83" font-size="16.3" text-anchor="end" fill="#000" font-family="Liberation Sans, sans-serif" >-2</text>
<text x="51.5" y="181.56" font-size="16.3" text-anchor="end" fill="#000" font-family="Liberation Sans, sans-serif" >-3</text>
<text x="51.5" y="212.29" font-size="16.3" text-anchor="end" fill="#000" font-family="Liberation Sans, sans-serif" >-4</text>
<text x="52.6" y="288.9" font-size="16.3" text-anchor="end" fill="#000" font-family="Liberation Sans, sans-serif" >1.2</text>
<text x="52.6" y="260.45" font-size="16.3" text-anchor="end" fill="#000" font-family="Liberation Sans, sans-serif" >1.3</text>
<text x="52.6" y="232" font-size="16.3" text-anchor="end" fill="#000" font-family="Liberation Sans, sans-serif" >1.4</text>
<text x="52.2" y="512.7" font-size="16.3" text-anchor="end" fill="#000" font-family="Liberation Sans, sans-serif" >4</text>
<text x="52.2" y="437.7" font-size="16.3" text-anchor="end" fill="#000" font-family="Liberation Sans, sans-serif" >6</text>
<text x="52.2" y="362.7" font-size="16.3" text-anchor="end" fill="#000" font-family="Liberation Sans, sans-serif" >8</text>
<text x="79.24" y="528.5" font-size="16.3" text-anchor="middle" fill="#000" font-family="Liberation Sans, sans-serif" >10</text>
<text x="133.84" y="528.5" font-size="16.3" text-anchor="middle" fill="#000" font-family="Liberation Sans, sans-serif" >15</text>
<text x="188.44" y="528.5" font-size="16.3" text-anchor="middle" fill="#000" font-family="Liberation Sans, sans-serif" >20</text>
<text x="243.04" y="528.5" font-size="16.3" text-anchor="middle" fill="#000" font-family="Liberation Sans, sans-serif" >25</text>
<text x="297.64" y="528.5" font-size="16.3" text-anchor="middle" fill="#000" font-family="Liberation Sans, sans-serif" >30</text>
<text x="195.4" y="548" font-size="16.6" text-anchor="middle" fill="#000" font-family="Liberation Sans, sans-serif" ><tspan font-style="italic">B</tspan> (T)</text>
<text x="396.4" y="451" font-size="16.7" text-anchor="end" fill="#000" font-family="Liberation Sans, sans-serif" >5.0</text>
<text x="396.4" y="292.1" font-size="16.7" text-anchor="end" fill="#000" font-family="Liberation Sans, sans-serif" >5.5</text>
<text x="396.4" y="133.2" font-size="16.7" text-anchor="end" fill="#000" font-family="Liberation Sans, sans-serif" >6.0</text>
<text x="448.3" y="526.2" font-size="16.7" text-anchor="middle" fill="#000" font-family="Liberation Sans, sans-serif" >18</text>
<text x="542.7" y="526.2" font-size="16.7" text-anchor="middle" fill="#000" font-family="Liberation Sans, sans-serif" >20</text>
<text x="637.1" y="526.2" font-size="16.7" text-anchor="middle" fill="#000" font-family="Liberation Sans, sans-serif" >22</text>
<text x="542.8" y="545.8" font-size="16.6" text-anchor="middle" fill="#000" font-family="Liberation Sans, sans-serif" ><tspan font-style="italic">B</tspan> (T)</text>
<text transform="translate(12.5,50.5) rotate(-90)" font-size="16.6" text-anchor="middle" fill="#000" font-family="Liberation Sans, sans-serif"><tspan font-style="italic">ρ</tspan><tspan font-size="11.5" dy="3.5">xx</tspan><tspan dy="-3.5"> (mΩ·cm)</tspan></text>
<text transform="translate(16.8,159.7) rotate(-90)" font-size="16.6" text-anchor="middle" fill="#000" font-family="Liberation Sans, sans-serif"><tspan font-style="italic">ρ</tspan><tspan font-size="11.5" dy="3.5">xy</tspan><tspan dy="-3.5"> (mΩ·cm)</tspan></text>
<text transform="translate(17.1,254.3) rotate(-90)" font-size="16.6" text-anchor="middle" fill="#000" font-family="Liberation Sans, sans-serif">1/<tspan font-style="italic">T</tspan> (K<tspan font-size="11.5" dy="-6">-1</tspan><tspan dy="6">)</tspan></text>
<text transform="translate(19.3,404.3) rotate(-90)" font-size="16.6" text-anchor="middle" fill="#000" font-family="Liberation Sans, sans-serif"><tspan font-style="italic">C</tspan>/<tspan font-style="italic">T</tspan> (mJ mol<tspan font-size="11.5" dy="-6">-1</tspan><tspan dy="6"> K</tspan><tspan font-size="11.5" dy="-6">-2</tspan><tspan dy="6">)</tspan></text>
<text transform="translate(368.3,253.7) rotate(-90)" font-size="16.6" text-anchor="middle" fill="#000" font-family="Liberation Sans, sans-serif"><tspan font-style="italic">C</tspan>/<tspan font-style="italic">T</tspan> <tspan dx="4.6">(mJ mol</tspan><tspan font-size="11.8" dy="-6">-1</tspan><tspan dy="6"> K</tspan><tspan font-size="11.8" dy="-6">-2</tspan><tspan dy="6">)</tspan></text>
<text transform="translate(94,335.6) rotate(-90)" font-size="14" text-anchor="middle" fill="#000" font-family="Liberation Sans, sans-serif"><tspan font-style="italic">C</tspan>/<tspan font-style="italic">T</tspan></text>
<text x="105" y="337" font-size="14" text-anchor="end" fill="#000" font-family="Liberation Sans, sans-serif" >5</text>
<text x="106.4" y="384.6" font-size="14" text-anchor="middle" fill="#000" font-family="Liberation Sans, sans-serif" >8</text>
<text x="152.8" y="384.6" font-size="14" text-anchor="middle" fill="#000" font-family="Liberation Sans, sans-serif" >12</text>
<text x="199.2" y="384.6" font-size="14" text-anchor="middle" fill="#000" font-family="Liberation Sans, sans-serif" >16</text>
<text x="159.4" y="397.8" font-size="14" text-anchor="middle" fill="#000" font-family="Liberation Sans, sans-serif" ><tspan font-style="italic">B</tspan> (T)</text>
<text x="230.5" y="364.1" font-size="14" text-anchor="end" fill="#0A1A8A" font-family="Liberation Sans, sans-serif" >0.35 K</text>
<text x="340" y="85" font-size="14" text-anchor="end" fill="#8000FF" font-family="Liberation Sans, sans-serif" >0.65 K</text>
<text x="339.8" y="179" font-size="14" text-anchor="end" fill="#BE5B16" font-family="Liberation Sans, sans-serif" >0.65 K</text>
<text x="337.2" y="276.2" font-size="14" text-anchor="end" fill="#FA0505" font-family="Liberation Sans, sans-serif" >0.7 K</text>
<text x="334.2" y="396.6" font-size="14" text-anchor="end" fill="#2B7BDB" font-family="Liberation Sans, sans-serif" >0.7 K</text>
<text x="335.2" y="496.9" font-size="14.3" text-anchor="end" fill="#000" font-family="Liberation Sans, sans-serif" ><tspan font-weight="bold">B</tspan> // [0 0 1]</text>
<text x="135" y="325" font-size="14" fill="#D21E1E" font-family="Liberation Sans, sans-serif"><tspan font-style="italic">B</tspan><tspan font-size="10" dy="4">c1</tspan></text>
<line x1="135.2" y1="333" x2="135.2" y2="339.6" stroke="#D21E1E" stroke-width="1.3"/>
<path d="M132.7,338.6 L137.7,338.6 L135.2,346.6 Z" fill="#D21E1E"/>
<line x1="147.9" y1="333" x2="147.9" y2="339.6" stroke="#D21E1E" stroke-width="1.3"/>
<path d="M145.4,338.6 L150.4,338.6 L147.9,346.6 Z" fill="#D21E1E"/>
<text x="192.4" y="317.7" font-size="14" fill="#9B30F5" font-family="Liberation Sans, sans-serif"><tspan font-style="italic">B</tspan><tspan font-size="10" dy="4">c2</tspan></text>
<line x1="193.4" y1="321.8" x2="193.4" y2="327" stroke="#9B30F5" stroke-width="1.3"/>
<path d="M190.9,326 L195.9,326 L193.4,334 Z" fill="#9B30F5"/>
<line x1="205.2" y1="321.8" x2="205.2" y2="327" stroke="#9B30F5" stroke-width="1.3"/>
<path d="M202.7,326 L207.7,326 L205.2,334 Z" fill="#9B30F5"/>
<text x="85" y="448.8" font-size="14" fill="#D21E1E" font-family="Liberation Sans, sans-serif"><tspan font-style="italic">B</tspan><tspan font-size="10" dy="4">c1</tspan></text>
<line x1="84.7" y1="456" x2="84.7" y2="463.5" stroke="#D21E1E" stroke-width="1.3"/>
<path d="M82.2,462.5 L87.2,462.5 L84.7,470.5 Z" fill="#D21E1E"/>
<line x1="101.4" y1="455" x2="101.4" y2="460.2" stroke="#D21E1E" stroke-width="1.3"/>
<path d="M98.9,459.2 L103.9,459.2 L101.4,467.2 Z" fill="#D21E1E"/>
<text x="137" y="432.2" font-size="14" fill="#9B30F5" font-family="Liberation Sans, sans-serif"><tspan font-style="italic">B</tspan><tspan font-size="10" dy="4">c2</tspan></text>
<line x1="135.4" y1="440.2" x2="135.4" y2="447" stroke="#9B30F5" stroke-width="1.3"/>
<path d="M132.9,446 L137.9,446 L135.4,454 Z" fill="#9B30F5"/>
<line x1="153.4" y1="440.2" x2="153.4" y2="447" stroke="#9B30F5" stroke-width="1.3"/>
<path d="M150.9,446 L155.9,446 L153.4,454 Z" fill="#9B30F5"/>
<text x="179.2" y="407.6" font-size="14" fill="#FF8A1E" font-family="Liberation Sans, sans-serif"><tspan font-style="italic">B</tspan><tspan font-size="10" dy="4">c3</tspan></text>
<line x1="180.2" y1="413.7" x2="180.2" y2="421.5" stroke="#FF8A1E" stroke-width="1.3"/>
<path d="M177.7,420.5 L182.7,420.5 L180.2,428.5 Z" fill="#FF8A1E"/>
<line x1="193" y1="413.7" x2="193" y2="421.5" stroke="#FF8A1E" stroke-width="1.3"/>
<path d="M190.5,420.5 L195.5,420.5 L193,428.5 Z" fill="#FF8A1E"/>
<text x="293.8" y="324.2" font-size="14" fill="#1A8C5A" font-family="Liberation Sans, sans-serif"><tspan font-style="italic">B</tspan><tspan font-size="10" dy="4">c4</tspan></text>
<line x1="286" y1="326.7" x2="286" y2="334.3" stroke="#1A8C5A" stroke-width="1.3"/>
<path d="M283.5,333.3 L288.5,333.3 L286,341.3 Z" fill="#1A8C5A"/>
<line x1="314.2" y1="326.7" x2="314.2" y2="334.3" stroke="#1A8C5A" stroke-width="1.3"/>
<path d="M311.7,333.3 L316.7,333.3 L314.2,341.3 Z" fill="#1A8C5A"/>
<text x="506.6" y="47.6" font-size="14" fill="#1A1FB0" font-family="Liberation Sans, sans-serif"><tspan font-style="italic">B</tspan> '</text>
<text x="552.8" y="16.3" font-size="14" fill="#8C1414" font-family="Liberation Sans, sans-serif"><tspan font-style="italic">B</tspan> "</text>
<text x="498.2" y="458.2" font-size="14" fill="#FF8A1E" font-family="Liberation Sans, sans-serif"><tspan font-style="italic">B</tspan><tspan font-size="10" dy="4">c3</tspan><tspan dy="-4"> = 19.6 T</tspan></text>
</svg>
</body></html>
